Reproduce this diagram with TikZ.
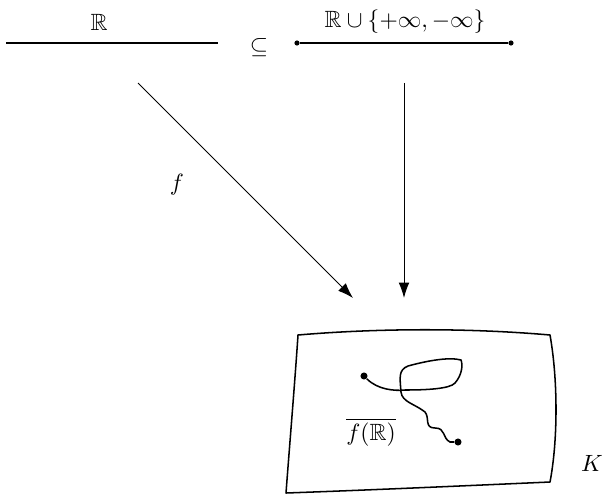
\documentclass[tikz,border=0pt]{standalone}
\usepackage{amssymb}
\usetikzlibrary{arrows.meta,calc,positioning}
\tikzset{
  axis/.style={line width=0.5pt,draw=black},
  maparrow/.style={-{Latex[length=2.3mm,width=1.6mm]},line width=0.4pt},
  edge/.style={line width=0.65pt,line join=round},
  path/.style={line width=0.65pt},
  dot/.style={circle,fill=black,inner sep=0pt,minimum size=3pt}
}
\begin{document}
\begin{tikzpicture}[x=0.425pt,y=-0.425pt]
  \useasboundingbox (0,0) rectangle (607,495);

  % the two lines
  \coordinate (la) at (6,43);
  \coordinate (lb) at (218,43);
  \draw[axis] (la) -- (lb);
  \node (rl) at (99,22) {$\mathbb{R}$};

  \node (sub) at (259,48) {$\subseteq$};

  \node[dot,minimum size=2.2pt] (ra) at (297,43) {};
  \node[dot,minimum size=2.2pt] (rb) at (511,43) {};
  \draw[axis] (ra) -- (rb);
  \node (rel) at (405,22) {$\mathbb{R}\cup\{+\infty,-\infty\}$};

  % maps into K
  \coordinate (fs) at (138,83);
  \coordinate (fe) at (353,298);
  \draw[maparrow] (fs) -- (fe);
  \node (fl) at (177,185) {$f$};

  \coordinate (gs) at (404,83);
  \coordinate (ge) at (404,298);
  \draw[maparrow] (gs) -- (ge);

  % the space K
  \coordinate (k1) at (298,335);
  \coordinate (k2) at (550,335);
  \coordinate (k3) at (550,482);
  \coordinate (k4) at (286,493);
  \draw[edge] (k1) .. controls (380,328) and (470,328) .. (k2)
    .. controls (558,380) and (558,440) .. (k3)
    .. controls (460,486) and (370,490) .. (k4)
    .. controls (290,440) and (295,380) .. (k1) -- cycle;
  \node (kl) at (592,463) {$K$};

  % closure of the image
  \node[dot] (ps) at (364,376) {};
  \node[dot] (pe) at (458,442) {};
  \draw[path] (ps) .. controls (378,390) and (395,391) .. (405,390)
    .. controls (425,390) and (450,389) .. (455,383)
    .. controls (462,375) and (463,365) .. (461,360)
    .. controls (450,357) and (430,360) .. (408,366)
    .. controls (398,370) and (400,378) .. (401,392)
    .. controls (402,402) and (415,404) .. (425,412)
    .. controls (430,418) and (424,428) .. (435,428)
    .. controls (446,428) and (442,438) .. (450,442) -- (pe);
  \node (fr) at (371,432) {$\overline{f(\mathbb{R})}$};
\end{tikzpicture}
\end{document}
